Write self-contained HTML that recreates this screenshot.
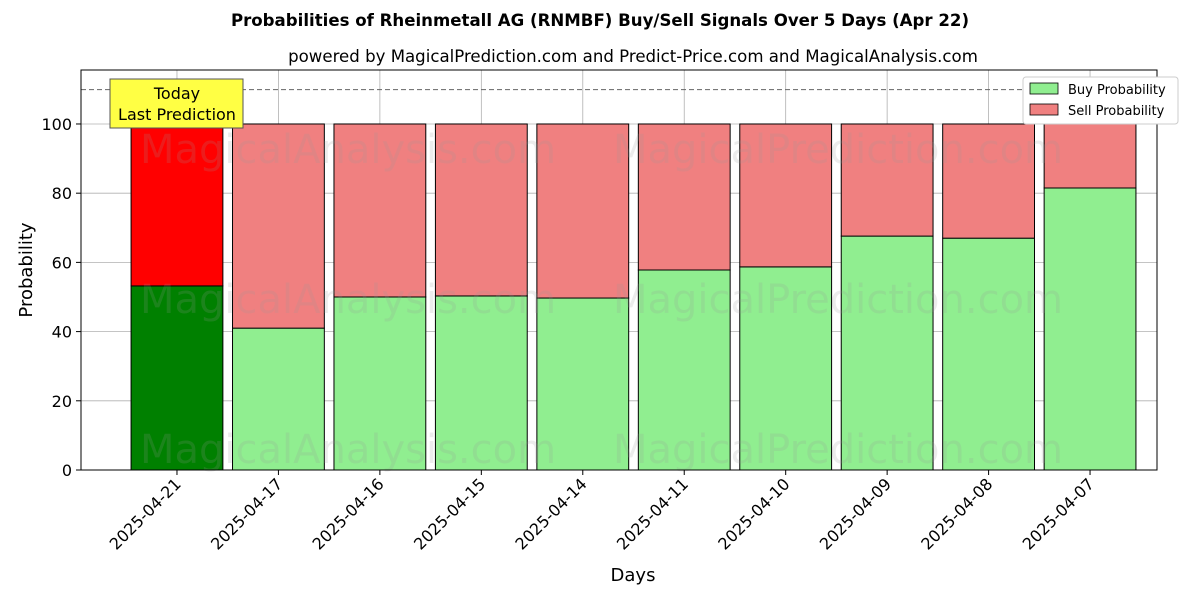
<!DOCTYPE html>
<html><head><meta charset="utf-8"><style>
body{margin:0;background:#fff;}
svg{display:block;font-family:"DejaVu Sans","Liberation Sans",sans-serif;}
</style></head><body>
<svg id="chart" width="1200" height="600" viewBox="0 0 1200 600" xmlns="http://www.w3.org/2000/svg">
<text x="600" y="26" text-anchor="middle" font-size="16.6" font-weight="bold">Probabilities of Rheinmetall AG (RNMBF) Buy/Sell Signals Over 5 Days (Apr 22)</text>
<text x="633" y="62" text-anchor="middle" font-size="16.6">powered by MagicalPrediction.com and Predict-Price.com and MagicalAnalysis.com</text>
<g id="grid"></g>
<g id="bars"></g>
<g font-size="40" fill="#999" opacity="0.18">
<text x="348" y="163" text-anchor="middle">MagicalAnalysis.com</text>
<text x="838" y="163" text-anchor="middle">MagicalPrediction.com</text>
<text x="348" y="313" text-anchor="middle">MagicalAnalysis.com</text>
<text x="838" y="313" text-anchor="middle">MagicalPrediction.com</text>
<text x="348" y="463" text-anchor="middle">MagicalAnalysis.com</text>
<text x="838" y="463" text-anchor="middle">MagicalPrediction.com</text>
</g>
<line x1="81" x2="1157" y1="89.6" y2="89.6" stroke="#666" stroke-dasharray="5,3" stroke-width="1"/>
<g id="axes"></g>
<rect x="81" y="70" width="1076" height="400" fill="none" stroke="#000" stroke-width="1"/>
<g>
<rect x="110" y="79" width="133" height="49" fill="#ffff44" stroke="#555" stroke-width="1"/>
<text x="177" y="99" text-anchor="middle" font-size="16">Today</text>
<text x="177" y="120" text-anchor="middle" font-size="16">Last Prediction</text>
</g>
<g>
<rect x="1023" y="77" width="155" height="47" fill="#fff" stroke="#ccc" rx="3"/>
<rect x="1030" y="83" width="28" height="11" fill="#90ee90" stroke="#000" stroke-width="0.8"/>
<text x="1068" y="94" font-size="13">Buy Probability</text>
<rect x="1030" y="104" width="28" height="11" fill="#f08080" stroke="#000" stroke-width="0.8"/>
<text x="1068" y="115" font-size="13">Sell Probability</text>
</g>
<text x="633" y="581" text-anchor="middle" font-size="18">Days</text>
<text transform="translate(32,270) rotate(-90)" text-anchor="middle" font-size="18">Probability</text>
</svg>
<script>
const categories = ["2025-04-21","2025-04-17","2025-04-16","2025-04-15","2025-04-14","2025-04-11","2025-04-10","2025-04-09","2025-04-08","2025-04-07"];
const buyValues = [53.2, 41.0, 50.0, 50.3, 49.7, 57.8, 58.7, 67.6, 67.0, 81.5];
const sellValues = buyValues.map(v => 100 - v);
const yTicks = [0, 20, 40, 60, 80, 100];

const NS = "http://www.w3.org/2000/svg";
const X0 = 81, X1 = 1157, Y0 = 470, YT = 70;
const xMin = -0.946, xMax = categories.length - 1 + 0.66;
const yMax = 115.6;
const xs = i => X0 + (i - xMin) / (xMax - xMin) * (X1 - X0);
const ys = v => Y0 - v / yMax * (Y0 - YT);
const bw = (xs(0.905) - xs(0));
function mk(tag, attrs, parent){const e=document.createElementNS(NS,tag);for(const k in attrs)e.setAttribute(k,attrs[k]);parent.appendChild(e);return e;}
const grid=document.getElementById('grid'), bars=document.getElementById('bars'), axes=document.getElementById('axes');
yTicks.forEach(t=>{
  const gl=mk('line',{x1:X0,x2:X1,y1:ys(t),y2:ys(t),stroke:'#b0b0b0','stroke-width':0.8},grid);
  
  
  const tk=mk('line',{x1:X0-5,x2:X0,y1:ys(t),y2:ys(t),stroke:'#000'},axes);
  
  
  const tx=mk('text',{x:X0-9,y:ys(t)+6,'text-anchor':'end','font-size':16},axes);
  tx.textContent=t;
  
  
});
categories.forEach((c,i)=>{
  const cx=xs(i);
  const gl=mk('line',{x1:cx,x2:cx,y1:YT,y2:Y0,stroke:'#b0b0b0','stroke-width':0.8},grid);
  
  
  const buy=mk('rect',{x:cx-bw/2,y:ys(buyValues[i]),width:bw,height:ys(0)-ys(buyValues[i]),fill:i===0?'#008000':'#90ee90',stroke:'#000','stroke-width':1},bars);
  
  
  const sell=mk('rect',{x:cx-bw/2,y:ys(buyValues[i]+sellValues[i]),width:bw,height:ys(buyValues[i])-ys(buyValues[i]+sellValues[i]),fill:i===0?'#ff0000':'#f08080',stroke:'#000','stroke-width':1},bars);
  
  
  const tk=mk('line',{x1:cx,x2:cx,y1:Y0,y2:Y0+5,stroke:'#000'},axes);
  
  
  const tx=mk('text',{x:0,y:0,'text-anchor':'end','font-size':16,transform:`translate(${cx+5},${Y0+15}) rotate(-45)`},axes);
  tx.textContent=c;
  
  
});
</script>
</body></html>
